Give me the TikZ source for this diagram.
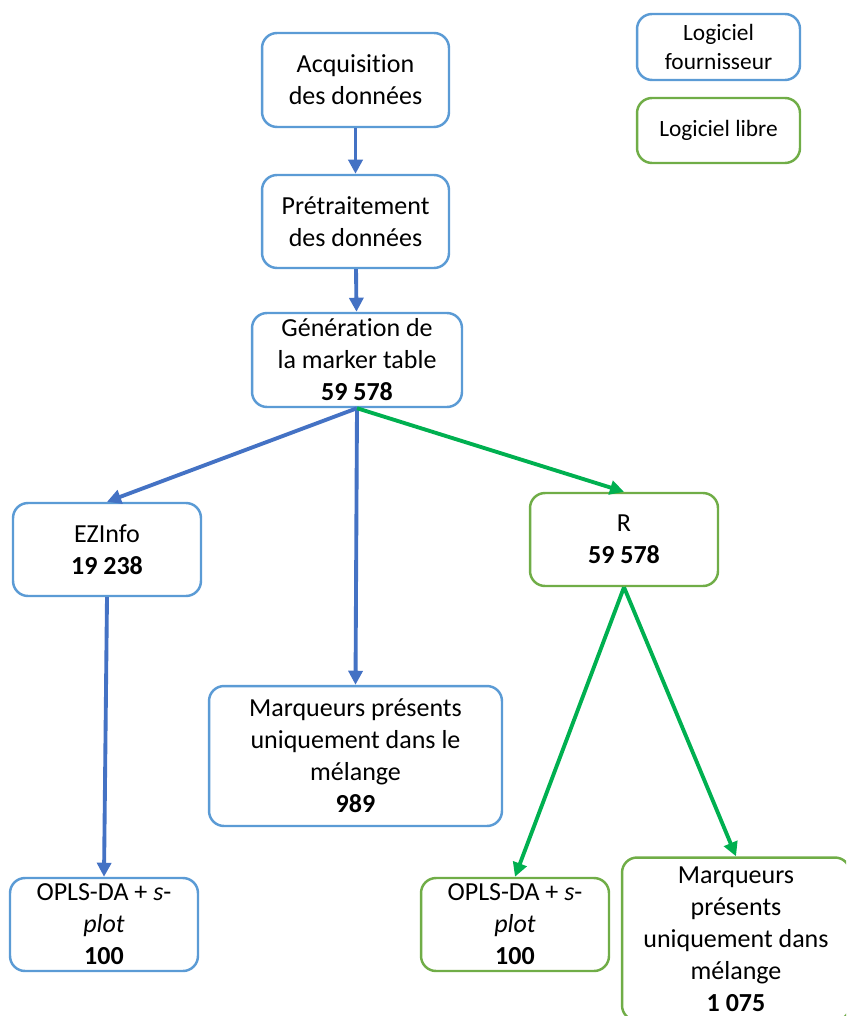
\documentclass[tikz,border=0pt]{standalone}
\usepackage{fontspec}
\setmainfont{Carlito}[RawFeature={-liga;-clig;-dlig;-calt}]
\usetikzlibrary{arrows.meta}
\definecolor{cadreF}{HTML}{5B9BD5}
\definecolor{cadreL}{HTML}{70AD47}
\definecolor{flecheBleu}{HTML}{4472C4}
\definecolor{flecheVert}{HTML}{00B050}
\tikzset{
	fourn/.style={draw=cadreF, line width=1.4pt, rounded corners=0.3cm, align=center, inner sep=0pt, fill=white, font=\fontsize{14.8}{18.2}\selectfont},
	libre/.style={fourn, draw=cadreL},
	legende/.style={font=\fontsize{13.3}{16}\selectfont},
	flecheF/.style={draw=flecheBleu, line width=2.2pt, -{Triangle[length=8pt,width=8pt]}},
	flecheL/.style={flecheF, draw=flecheVert}
}
\begin{document}
\begin{tikzpicture}[x=0.02cm,y=-0.02cm]
				\clip (0,0) rectangle (846,1016);
				% chaine principale
				\node[fourn, minimum width=3.74cm, minimum height=1.88cm] (acq) at (355.5,80) {Acquisition\\des données};
				\node[fourn, minimum width=3.74cm, minimum height=1.86cm] (pretr) at (355.5,221.5) {Prétraitement\\des données};
				\node[fourn, minimum width=4.2cm, minimum height=1.88cm] (gen) at (357,360) {Génération de\\la marker table\\\textbf{59 578}};
				% logiciel fournisseur
				\node[fourn, minimum width=3.76cm, minimum height=1.86cm] (ezinfo) at (107,549.5) {EZInfo\\\textbf{19 238}};
				\node[fourn, minimum width=5.86cm, minimum height=2.8cm] (margen) at (355.5,756) {Marqueurs présents\\uniquement dans le\\mélange\\\textbf{989}};
				\node[fourn, minimum width=3.76cm, minimum height=1.86cm] (oplsF) at (104,924.5) {OPLS-DA + \textit{s}-\\\textit{plot}\\\textbf{100}};
				% logiciel libre
				\node[libre, minimum width=3.76cm, minimum height=1.86cm] (R) at (624,539.5) {R\\\textbf{59 578}};
				\node[libre, minimum width=3.76cm, minimum height=1.86cm] (oplsL) at (515,924.5) {OPLS-DA + \textit{s}-\\\textit{plot}\\\textbf{100}};
				\node[libre, minimum width=4.56cm, minimum height=3.26cm] (marR) at (736,939) {Marqueurs\\présents\\uniquement dans\\mélange\\\textbf{1 075}};
				% legende
				\node[fourn, legende, minimum width=3.26cm, minimum height=1.32cm] (legF) at (718.5,47) {Logiciel\\fournisseur};
				\node[libre, legende, minimum width=3.26cm, minimum height=1.3cm] (legL) at (718.5,130.5) {Logiciel libre};
				% fleches
				\draw[flecheF] (acq) -- (pretr);
				\draw[flecheF] (pretr) -- (gen);
				\draw[flecheF] (gen.south) -- (ezinfo.north);
				\draw[flecheF] (gen.south) -- (margen.north);
				\draw[flecheF] (ezinfo.south) -- (oplsF.north);
				\draw[flecheL] (gen.south) -- (R.north);
				\draw[flecheL] (R.south) -- (oplsL.north);
				\draw[flecheL] (R.south) -- (marR.north);
\end{tikzpicture}
\end{document}
